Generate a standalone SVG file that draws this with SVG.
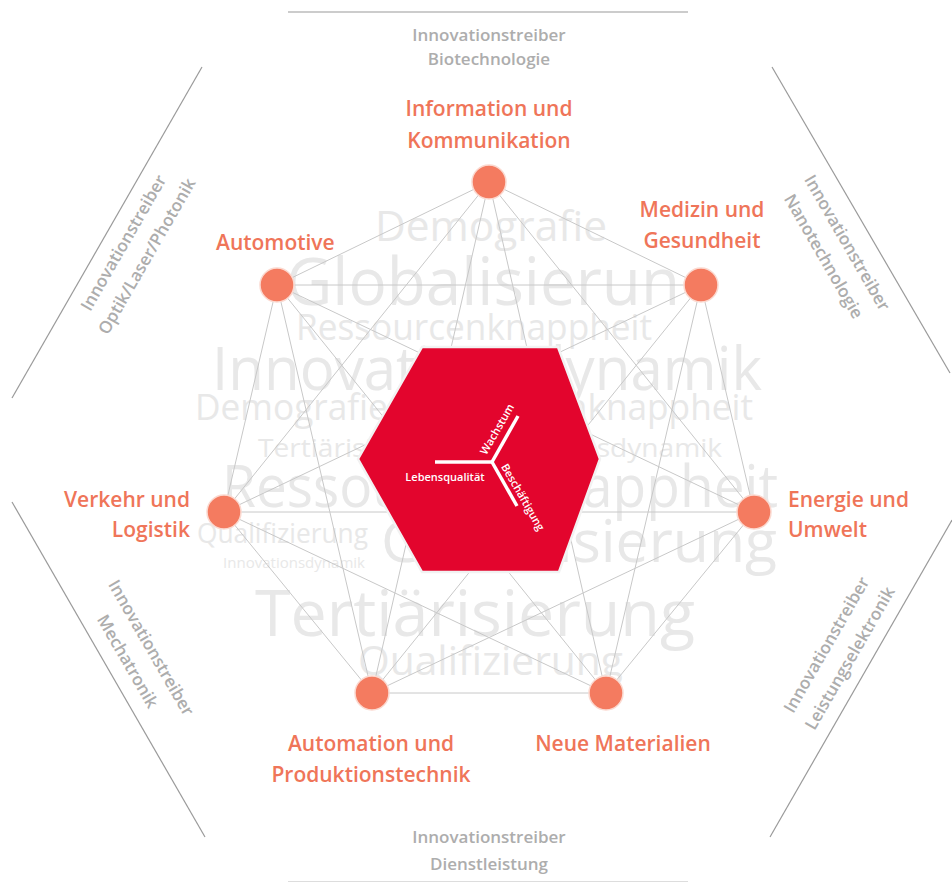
<svg xmlns="http://www.w3.org/2000/svg" width="952" height="883" viewBox="0 0 952 883">
<style>
.bg{font-family:"Open Sans","Noto Sans",sans-serif;fill:#e8e8e8;}
.frame{stroke:#9a9a9a;stroke-width:1.2;fill:none;}
.edge{stroke:#c8c8c8;stroke-width:1;fill:none;}
.node{fill:#f47b60;stroke:#fbd9d0;stroke-width:1.5;}
.lbl{font-family:"Open Sans","Noto Sans",sans-serif;font-weight:600;font-size:21px;fill:#ef7559;}
.drv{font-family:"Open Sans","Noto Sans",sans-serif;font-weight:600;font-size:17px;fill:#adadad;text-anchor:middle;}
.wt{font-family:"Open Sans","Noto Sans",sans-serif;font-weight:600;font-size:11px;fill:#ffffff;}
.arm{stroke:#ffffff;stroke-width:3.5;fill:none;stroke-linecap:butt;}
</style>
<rect width="952" height="883" fill="#ffffff"/>
<g id="frame">
<line class="frame" x1="288" y1="12" x2="688" y2="12"/>
<line class="frame" x1="202" y1="67" x2="12" y2="398"/>
<line class="frame" x1="772" y1="67" x2="950" y2="373"/>
<line class="frame" x1="12" y1="502" x2="205" y2="837"/>
<line class="frame" x1="952" y1="520" x2="770" y2="837"/>
<line class="frame" x1="288" y1="881.5" x2="688" y2="881.5" style="stroke:#dddddd"/>
</g>
<g id="background-words">
<text class="bg" x="375" y="241" font-size="42" textLength="232" lengthAdjust="spacingAndGlyphs">Demografie</text>
<text class="bg" x="286" y="305" font-size="66" textLength="394" lengthAdjust="spacingAndGlyphs">Globalisierun</text>
<text class="bg" x="296" y="340" font-size="37" textLength="356" lengthAdjust="spacingAndGlyphs">Ressourcenknappheit</text>
<text class="bg" x="212" y="390" font-size="60" textLength="550" lengthAdjust="spacingAndGlyphs">Innovationsdynamik</text>
<text class="bg" x="195" y="420" font-size="36" textLength="558" lengthAdjust="spacingAndGlyphs">Demografie Ressourcenknappheit</text>
<text class="bg" x="258" y="457" font-size="26" textLength="464" lengthAdjust="spacingAndGlyphs">Tertiärisierung Innovationsdynamik</text>
<text class="bg" x="222" y="507" font-size="58" textLength="556" lengthAdjust="spacingAndGlyphs">Ressourcenknappheit</text>
<text class="bg" x="197" y="543" font-size="27" textLength="171" lengthAdjust="spacingAndGlyphs">Qualifizierung</text>
<text class="bg" x="381" y="562" font-size="58" textLength="396" lengthAdjust="spacingAndGlyphs">Globalisierung</text>
<text class="bg" x="223" y="568" font-size="14" textLength="142" lengthAdjust="spacingAndGlyphs">Innovationsdynamik</text>
<text class="bg" x="255" y="636" font-size="64" textLength="440" lengthAdjust="spacingAndGlyphs">Tertiärisierung</text>
<text class="bg" x="358" y="675" font-size="40" textLength="265" lengthAdjust="spacingAndGlyphs">Qualifizierung</text>
</g>
<g id="connectors">
<line class="edge" x1="489" y1="182" x2="701" y2="285"/>
<line class="edge" x1="489" y1="182" x2="754" y2="512"/>
<line class="edge" x1="489" y1="182" x2="606" y2="693"/>
<line class="edge" x1="489" y1="182" x2="372" y2="693"/>
<line class="edge" x1="489" y1="182" x2="224" y2="512"/>
<line class="edge" x1="489" y1="182" x2="277" y2="285"/>
<line class="edge" x1="701" y1="285" x2="754" y2="512"/>
<line class="edge" x1="701" y1="285" x2="606" y2="693"/>
<line class="edge" x1="701" y1="285" x2="372" y2="693"/>
<line class="edge" x1="701" y1="285" x2="224" y2="512"/>
<line class="edge" x1="701" y1="285" x2="277" y2="285"/>
<line class="edge" x1="754" y1="512" x2="606" y2="693"/>
<line class="edge" x1="754" y1="512" x2="372" y2="693"/>
<line class="edge" x1="754" y1="512" x2="224" y2="512"/>
<line class="edge" x1="754" y1="512" x2="277" y2="285"/>
<line class="edge" x1="606" y1="693" x2="372" y2="693"/>
<line class="edge" x1="606" y1="693" x2="224" y2="512"/>
<line class="edge" x1="606" y1="693" x2="277" y2="285"/>
<line class="edge" x1="372" y1="693" x2="224" y2="512"/>
<line class="edge" x1="372" y1="693" x2="277" y2="285"/>
<line class="edge" x1="224" y1="512" x2="277" y2="285"/>
</g>
<g id="center">
<polygon points="422,347 558,347 600,459 559,572 422,572 358,459" fill="#e3052d" stroke="#f2f2f2" stroke-width="2.5"/>
<line class="arm" x1="435" y1="462" x2="493" y2="462"/>
<line class="arm" x1="492" y1="462" x2="518" y2="416"/>
<line class="arm" x1="492" y1="462" x2="517" y2="506"/>
<text class="wt" x="445" y="481" text-anchor="middle">Lebensqualität</text>
<text class="wt" transform="translate(497,429) rotate(-60)" x="0" y="4" text-anchor="middle">Wachstum</text>
<text class="wt" transform="translate(523,497) rotate(60)" x="0" y="4" text-anchor="middle">Beschäftigung</text>
</g>
<g id="node-info"><circle class="node" cx="489" cy="182" r="17"/>
<text class="lbl" x="489" y="116" text-anchor="middle">Information und</text>
<text class="lbl" x="489" y="148" text-anchor="middle">Kommunikation</text></g>
<g id="node-medizin"><circle class="node" cx="701" cy="285" r="17"/>
<text class="lbl" x="702" y="217" text-anchor="middle">Medizin und</text>
<text class="lbl" x="702" y="248" text-anchor="middle">Gesundheit</text></g>
<g id="node-energie"><circle class="node" cx="754" cy="512" r="17"/>
<text class="lbl" x="788" y="507">Energie und</text>
<text class="lbl" x="788" y="537">Umwelt</text></g>
<g id="node-materialien"><circle class="node" cx="606" cy="693" r="17"/>
<text class="lbl" x="623" y="751" text-anchor="middle">Neue Materialien</text></g>
<g id="node-automation"><circle class="node" cx="372" cy="693" r="17"/>
<text class="lbl" x="371" y="751" text-anchor="middle">Automation und</text>
<text class="lbl" x="371" y="782" text-anchor="middle">Produktionstechnik</text></g>
<g id="node-verkehr"><circle class="node" cx="224" cy="512" r="17"/>
<text class="lbl" x="190" y="507" text-anchor="end">Verkehr und</text>
<text class="lbl" x="190" y="537" text-anchor="end">Logistik</text></g>
<g id="node-automotive"><circle class="node" cx="277" cy="285" r="17"/>
<text class="lbl" x="216" y="250">Automotive</text></g>
<g id="drivers">
<g transform="translate(489,0)"><text class="drv" x="0" y="41">Innovationstreiber</text><text class="drv" x="0" y="65">Biotechnologie</text></g>
<g transform="translate(489,0)"><text class="drv" x="0" y="843">Innovationstreiber</text><text class="drv" x="0" y="870">Dienstleistung</text></g>
<g transform="translate(135,249.5) rotate(-60)"><text class="drv" x="0" y="-7.5">Innovationstreiber</text><text class="drv" x="0" y="19.5">Optik/Laser/Photonik</text></g>
<g transform="translate(835.5,249.5) rotate(60)"><text class="drv" x="0" y="-7.5">Innovationstreiber</text><text class="drv" x="0" y="19.5">Nanotechnologie</text></g>
<g transform="translate(139.5,654.5) rotate(60)"><text class="drv" x="0" y="-7.5">Innovationstreiber</text><text class="drv" x="0" y="19.5">Mechatronik</text></g>
<g transform="translate(838,651.5) rotate(-60)"><text class="drv" x="0" y="-7.5">Innovationstreiber</text><text class="drv" x="0" y="19.5">Leistungselektronik</text></g>
</g>
</svg>
